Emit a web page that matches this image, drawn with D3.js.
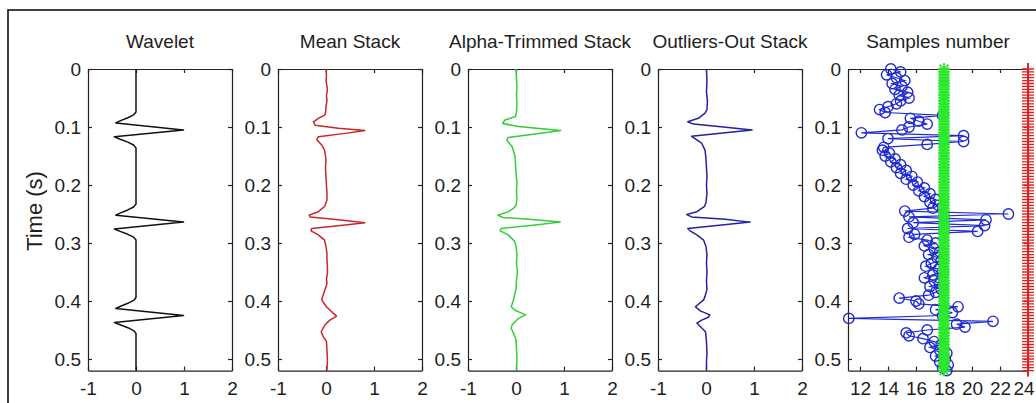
<!DOCTYPE html>
<html>
<head>
<meta charset="utf-8">
<script src="https://d3js.org/d3.v7.min.js"></script>
<style>
body{margin:0;background:#fff;}
text{font-family:"Liberation Sans",Arial,sans-serif;fill:#1e1e1e;}
</style>
</head>
<body>
<script>

var width=1036, height=403;

var titles=["Wavelet","Mean Stack","Alpha-Trimmed Stack","Outliers-Out Stack","Samples number"];
var timeTicks=[0,0.1,0.2,0.3,0.4,0.5];
var ampTicks=[-1,0,1,2];
var sampleTicks=[12,14,16,18,20,22,24];

// [time (s), amplitude]
var wavelet=[[0,0],[0.074,0],[0.079,-0.05],[0.084,-0.17],[0.089,-0.32],[0.093,-0.42],[0.105,0.99],[0.117,-0.45],[0.121,-0.33],[0.126,-0.17],[0.131,-0.05],[0.136,0],
  [0.233,0],[0.238,-0.05],[0.243,-0.17],[0.248,-0.32],[0.252,-0.42],[0.264,0.99],[0.276,-0.45],[0.28,-0.33],[0.285,-0.17],[0.29,-0.05],[0.295,0],
  [0.394,0],[0.399,-0.05],[0.404,-0.17],[0.409,-0.32],[0.413,-0.42],[0.425,0.99],[0.437,-0.45],[0.441,-0.33],[0.446,-0.17],[0.451,-0.05],[0.456,0],[0.52,0]];

var meanStack=[[0,0],[0.012,0.01],[0.02,0],[0.03,0.02],[0.036,0.03],[0.045,0.01],[0.055,0.02],[0.065,0],[0.075,-0.01],[0.079,-0.02],[0.085,-0.16],[0.091,-0.26],[0.097,-0.23],
  [0.102,0.26],[0.106,0.81],[0.111,0.4],[0.117,-0.16],[0.122,-0.19],[0.131,-0.09],[0.14,-0.03],[0.15,-0.01],[0.157,0],[0.17,-0.01],[0.186,0],[0.2,0.01],[0.214,0.02],
  [0.226,0.02],[0.237,-0.03],[0.246,-0.16],[0.252,-0.35],[0.255,-0.33],[0.26,0.26],[0.265,0.81],[0.269,0.4],[0.275,-0.3],[0.279,-0.31],[0.286,-0.16],[0.295,-0.03],
  [0.306,0],[0.318,0.02],[0.329,0.02],[0.34,0.03],[0.352,0.03],[0.362,0.01],[0.37,0.02],[0.38,-0.02],[0.387,-0.05],[0.398,-0.09],[0.41,0.01],[0.421,0.15],[0.426,0.22],
  [0.433,0.08],[0.441,-0.02],[0.453,-0.1],[0.461,-0.06],[0.47,0.01],[0.485,0.02],[0.502,0.03],[0.52,0.02]];

var alphaStack=[[0,0],[0.015,0.01],[0.03,0.02],[0.045,0.01],[0.06,0.02],[0.075,0.01],[0.082,-0.01],[0.088,-0.23],[0.094,-0.28],[0.099,0.05],[0.106,0.93],[0.112,0.4],
  [0.118,-0.17],[0.123,-0.19],[0.134,-0.08],[0.151,-0.02],[0.165,-0.01],[0.18,0],[0.195,0.02],[0.21,0.01],[0.225,0.02],[0.235,0],[0.24,-0.05],[0.246,-0.16],[0.252,-0.38],
  [0.256,-0.27],[0.26,0.4],[0.264,0.92],[0.269,0.4],[0.275,-0.31],[0.279,-0.33],[0.286,-0.16],[0.297,-0.03],[0.306,0],[0.32,0.02],[0.335,0.01],[0.35,0.03],[0.365,0.01],
  [0.38,0],[0.39,-0.03],[0.398,-0.05],[0.41,-0.1],[0.416,-0.02],[0.424,0.2],[0.43,0.05],[0.441,-0.08],[0.447,-0.1],[0.456,-0.05],[0.467,0],[0.48,0.01],[0.5,0.02],[0.52,0.01]];

var outliersStack=[[0,0.01],[0.02,0.02],[0.04,0.01],[0.055,0.03],[0.07,0.02],[0.076,-0.02],[0.085,-0.16],[0.091,-0.38],[0.095,-0.26],[0.099,0.26],[0.105,0.96],[0.11,0.4],
  [0.116,-0.3],[0.12,-0.23],[0.128,-0.09],[0.14,-0.02],[0.155,0],[0.17,0.01],[0.185,0.02],[0.2,0.01],[0.215,0.02],[0.23,0],[0.237,-0.03],[0.246,-0.19],[0.251,-0.4],
  [0.255,-0.3],[0.259,0.4],[0.264,0.92],[0.269,0.33],[0.275,-0.38],[0.279,-0.33],[0.286,-0.19],[0.295,-0.05],[0.306,0],[0.32,0.02],[0.335,0.01],[0.35,0.02],[0.365,0.01],
  [0.38,0.02],[0.392,-0.02],[0.398,-0.05],[0.41,-0.22],[0.417,-0.12],[0.424,0.08],[0.428,0.05],[0.433,-0.09],[0.438,-0.19],[0.444,-0.12],[0.453,-0.01],[0.47,0.01],
  [0.49,0.02],[0.505,0.01],[0.52,0.01]];

// samples kept per time sample (every 5 ms), plus reference levels
var sampleDt=0.005;
var samplesUsed=[14.2,14.9,13.9,14.6,15.2,14.3,15.0,14.5,15.4,14.8,15.5,14.9,14.6,14.0,13.4,13.8,17.9,15.6,16.2,16.8,
  15.5,15.0,12.1,19.4,14.0,19.4,16.8,13.7,13.6,14.1,13.8,14.5,14.2,14.9,14.6,15.3,14.9,15.7,15.3,16.1,
  15.8,16.6,16.2,17.0,16.6,17.4,17.0,17.6,17.2,15.2,22.6,15.5,21.0,15.8,20.9,15.4,20.4,15.9,15.5,16.8,
  17.4,16.6,17.3,17.7,16.9,17.5,17.8,17.1,16.7,17.6,17.9,17.2,16.6,17.3,17.7,17.0,17.8,17.4,16.9,14.8,
  16.0,16.2,19.0,17.4,18.6,17.9,11.2,21.5,18.9,19.5,16.8,15.3,15.5,16.5,17.3,17.8,17.0,17.7,18.2,17.4,
  18.1,17.7,18.3,17.9,18.2];
var samplesMedian=18;
var samplesTotal=24;

var lefts=[88,278,468,658,848];
var widths=[144,144,144,144,180];
var plotTop=69, plotBottom=370.6;

var svg=d3.select("body").append("svg")
  .attr("width",width)
  .attr("height",height);

svg.append("rect")
  .attr("x",8).attr("y",10).attr("width",1050).attr("height",420)
  .attr("fill","none").attr("stroke","#111").attr("stroke-width",1.6);

var y=d3.scaleLinear().domain([0,0.52]).range([plotTop,plotBottom]);

function drawFrame(i,x,xticks){
  var g=svg.append("g");
  var l=lefts[i], r=lefts[i]+widths[i];
  var fmt=function(d){ return String(d); };
  var axes=[
    d3.axisLeft(y).tickValues(timeTicks).tickFormat(fmt).tickPadding(7),
    d3.axisRight(y).tickValues(timeTicks).tickFormat(""),
    d3.axisBottom(x).tickValues(xticks).tickFormat(fmt).tickPadding(11),
    d3.axisTop(x).tickValues(xticks).tickFormat("")
  ];
  var pos=["translate("+l+",0)","translate("+r+",0)","translate(0,"+plotBottom+")","translate(0,"+plotTop+")"];
  axes.forEach(function(a,k){
    g.append("g").attr("transform",pos[k])
      .call(a.tickSizeInner(-4).tickSizeOuter(0))
      .attr("font-size",19).attr("font-family",null)
      .call(function(s){ s.select(".domain").attr("stroke","#222").attr("stroke-width",1.2); s.selectAll(".tick line").attr("stroke","#222").attr("stroke-width",1.2); });
  });
  // keep the last bottom label inside the window
  g.selectAll("text").each(function(){
    var b=this.getBBox(), m=this.getCTM();
    var over=m.e+b.x+b.width-(width-1);
    if(over>0) d3.select(this).attr("dx",-over);
  });
  svg.append("text").attr("x",l+widths[i]/2).attr("y",48)
    .attr("text-anchor","middle").attr("font-size",19).text(titles[i]);
}

var traces=[wavelet,meanStack,alphaStack,outliersStack];
var colors=["#111111","#c8262b","#35cc3a","#23239c"];

traces.forEach(function(tr,i){
  var x=d3.scaleLinear().domain([-1,2]).range([lefts[i],lefts[i]+widths[i]]);
  drawFrame(i,x,ampTicks);
  var line=d3.line().x(function(d){ return x(d[1]); }).y(function(d){ return y(d[0]); });
  svg.append("path").datum(tr)
    .attr("d",line)
    .attr("fill","none")
    .attr("stroke",colors[i])
    .attr("stroke-width",1.5)
    .attr("stroke-linejoin","round");
});

// samples number panel
var xs=d3.scaleLinear().domain([12-12/14,24]).range([lefts[4],lefts[4]+widths[4]]);
drawFrame(4,xs,sampleTicks);

var pts=samplesUsed.map(function(v,i){ return [i*sampleDt,v]; });
var sline=d3.line().x(function(d){ return xs(d[1]); }).y(function(d){ return y(d[0]); });
svg.append("path").datum(pts).attr("d",sline)
  .attr("fill","none").attr("stroke","#1f2bd0").attr("stroke-width",1.2);
svg.append("g").selectAll("circle").data(pts).enter().append("circle")
  .attr("cx",function(d){ return xs(d[1]); })
  .attr("cy",function(d){ return y(d[0]); })
  .attr("r",5.2)
  .attr("fill","none").attr("stroke","#1f2bd0").attr("stroke-width",1.4);

// median level: green stars
svg.append("g").selectAll("path").data(pts).enter().append("path")
  .attr("transform",function(d){ return "translate("+xs(samplesMedian)+","+y(d[0])+")"; })
  .attr("d","M-6,0H6M0,-6V6M-4.5,-4.5L4.5,4.5M-4.5,4.5L4.5,-4.5")
  .attr("stroke","#2ee82e").attr("stroke-width",1.6).attr("fill","none");

// total samples: red plus
svg.append("line")
  .attr("x1",xs(samplesTotal)).attr("x2",xs(samplesTotal))
  .attr("y1",y(0)-6).attr("y2",y(0.52)+6)
  .attr("stroke","#111").attr("stroke-width",1.2);
svg.append("g").selectAll("path").data(pts).enter().append("path")
  .attr("transform",function(d){ return "translate("+xs(samplesTotal)+","+y(d[0])+")"; })
  .attr("d","M-6,0H6M0,-6V6")
  .attr("stroke","#e3201f").attr("stroke-width",1.3).attr("fill","none");

svg.append("text")
  .attr("transform","translate(41.5,211) rotate(-90)")
  .attr("text-anchor","middle").attr("font-size",22).text("Time (s)");

</script>
</body>
</html>
